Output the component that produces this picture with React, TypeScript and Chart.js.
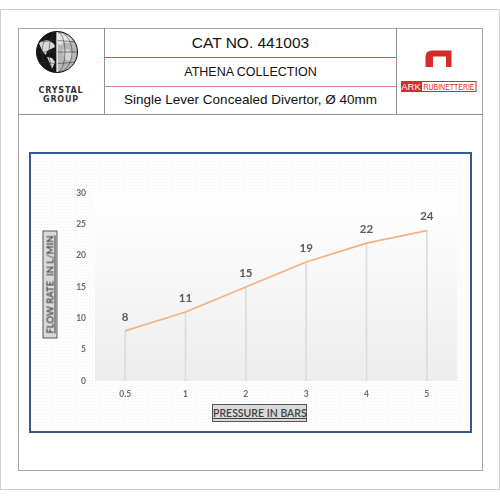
import React, { useEffect, useRef } from "react";
import { Chart, registerables } from "chart.js";

Chart.register(...registerables);

const pressures = ["0.5", "1", "2", "3", "4", "5"];
const flowRates = [8, 11, 15, 19, 22, 24];
const yMin = 0;
const yMax = 30;
const yStep = 5;

const catNo = "CAT NO. 441003";
const collection = "ATHENA COLLECTION";
const product = "Single Lever Concealed Divertor, Ø 40mm";
const yTitle = "FLOW RATE  IN L/MIN";
const xTitle = "PRESSURE IN BARS";

const chartFont = "Lato, 'Open Sans', sans-serif";

const plotBgPlugin = {
  id: "plotBg",
  beforeDraw(chart: any) {
    const { ctx, chartArea } = chart;
    if (!chartArea) return;
    const g = ctx.createLinearGradient(0, chartArea.top, 0, chartArea.bottom);
    g.addColorStop(0, "#ffffff");
    g.addColorStop(1, "#ededed");
    ctx.save();
    ctx.fillStyle = g;
    ctx.fillRect(chartArea.left, chartArea.top, chartArea.right - chartArea.left, chartArea.bottom - chartArea.top);
    ctx.restore();
  },
};

const valueLabelPlugin = {
  id: "valueLabels",
  afterDatasetsDraw(chart: any) {
    const { ctx } = chart;
    const meta = chart.getDatasetMeta(1);
    const data = chart.data.datasets[1].data;
    ctx.save();
    ctx.font = `bold 11.5px ${chartFont}`;
    ctx.fillStyle = "#595959";
    ctx.textAlign = "center";
    ctx.textBaseline = "middle";
    meta.data.forEach((el: any, i: number) => {
      ctx.fillText(String(data[i]), el.x, el.y - 14);
    });
    ctx.restore();
  },
};

function ChartBox() {
  const ref = useRef<HTMLCanvasElement | null>(null);
  useEffect(() => {
    if (!ref.current) return;
    const chart = new Chart(ref.current, {
      type: "bar",
      data: {
        labels: pressures,
        datasets: [
          {
            type: "bar",
            data: flowRates,
            backgroundColor: "#dcdcdc",
            barThickness: 1,
            order: 2,
          } as any,
          {
            type: "line",
            data: flowRates,
            borderColor: "#f4b183",
            borderWidth: 1.6,
            pointRadius: 0,
            tension: 0,
            fill: false,
            order: 1,
          } as any,
        ],
      },
      options: {
        animation: false,
        responsive: false,
        maintainAspectRatio: false,
        layout: { padding: { top: 39, right: 12, bottom: 0, left: 0 } },
        plugins: {
          legend: { display: false },
          tooltip: { enabled: false },
          title: { display: false },
        },
        scales: {
          x: {
            offset: true,
            grid: { display: false, drawTicks: false },
            border: { display: false },
            ticks: {
              padding: 8,
              color: "#6b6b6b",
              font: { family: chartFont, size: 8.5, weight: "bold" },
            },
            afterFit: (s: any) => {
              s.height = 49;
            },
          },
          y: {
            min: yMin,
            max: yMax,
            grid: { display: false, drawTicks: false },
            border: { display: false },
            ticks: {
              stepSize: yStep,
              padding: 9,
              color: "#6b6b6b",
              font: { family: chartFont, size: 8.5, weight: "bold" },
            },
            afterFit: (s: any) => {
              s.width = 64;
            },
          },
        },
      } as any,
      plugins: [plotBgPlugin, valueLabelPlugin],
    });
    return () => chart.destroy();
  }, []);
  return (
    <canvas
      ref={ref}
      width={438}
      height={276}
      style={{ position: "absolute", left: 31, top: 154, width: 438, height: 276 }}
    />
  );
}

function Globe() {
  return (
    <svg width={44} height={44} viewBox="0 0 44 44" style={{ position: "absolute", left: 35, top: 30 }}>
      <defs>
        <clipPath id="gclip">
          <circle cx={22} cy={22} r={20.5} />
        </clipPath>
      </defs>
      <g clipPath="url(#gclip)">
        <rect x={0} y={0} width={22} height={44} fill="#151515" />
        <rect x={22} y={0} width={22} height={44} fill="#b5b5b5" />
        <path d="M22 4 L27 3 L33 6 L37 10 L34 13 L29 12 L26 15 L23 14 Z" fill="#e6e6e6" />
        <path d="M27 20 L33 19 L38 24 L35 31 L30 29 Z" fill="#d6d6d6" />
        <path d="M4 13 Q9 9 15 11 L19 14 L20 17 L16 19 L12 21 L11 25 L8 22 L6 18 Z" fill="#d8d8d8" />
        <path d="M12 27 L17 28 L20 32 L17 39 L15 34 Z" fill="#d8d8d8" />
        <g stroke="#333" strokeWidth={0.55} fill="none">
          <ellipse cx={22} cy={22} rx={8} ry={20.5} />
          <ellipse cx={22} cy={22} rx={15} ry={20.5} />
          <path d="M0 12 Q22 9 44 12" />
          <path d="M0 32 Q22 35 44 32" />
          <line x1={0} y1={22} x2={44} y2={22} />
        </g>
        <line x1={22} y1={0} x2={22} y2={44} stroke="#fff" strokeWidth={1.2} />
      </g>
      <circle cx={22} cy={22} r={20.5} fill="none" stroke="#111" strokeWidth={1} />
    </svg>
  );
}

function ArkLogo() {
  return (
    <svg width={86} height={50} viewBox="0 0 86 50" style={{ position: "absolute", left: 396, top: 46 }}>
      <path d="M29.5 21 L29.5 11 Q29.5 4.5 36 4.5 L55.5 4.5 L55.5 21 L50 21 L50 10.5 L37 10.5 L37 21 Z" fill="#d42b2b" />
      <rect x={5} y={35} width={20} height={11} fill="#d42b2b" />
      <text x={15} y={44.2} fill="#fff" fontFamily="'Liberation Sans', Arial, sans-serif" fontSize={9.5} textAnchor="middle">ARK</text>
      <rect x={25.5} y={35.5} width={54.5} height={10} fill="#fff" stroke="#d42b2b" strokeWidth={1} />
      <text x={27.5} y={44.2} fill="#d42b2b" fontFamily="'Liberation Sans', Arial, sans-serif" fontSize={9.5} textLength={51} lengthAdjust="spacingAndGlyphs">RUBINETTERIE</text>
    </svg>
  );
}

export default function App() {
  const abs = (s: React.CSSProperties): React.CSSProperties => ({ position: "absolute", boxSizing: "border-box", ...s });
  const sans = "'Liberation Sans', Arial, sans-serif";
  return (
    <div style={abs({ left: 0, top: 0, width: 500, height: 500, background: "#fff", overflow: "hidden", fontFamily: sans })}>
      {/* outer frame */}
      <div style={abs({ left: 0, top: 9, width: 500, height: 481, border: "1px solid #cfcfcf" })} />
      {/* inner frame */}
      <div style={abs({ left: 18, top: 28, width: 465, height: 443, border: "1px solid #a8a8a8" })} />
      {/* header bottom line */}
      <div style={abs({ left: 18, top: 114, width: 465, height: 1, background: "#8f8f8f" })} />
      {/* column lines */}
      <div style={abs({ left: 104, top: 28, width: 1, height: 87, background: "#8f8f8f" })} />
      <div style={abs({ left: 396, top: 28, width: 1, height: 87, background: "#8f8f8f" })} />
      {/* red lines */}
      <div style={abs({ left: 104, top: 57, width: 292, height: 1, background: "#d24a4a" })} />
      <div style={abs({ left: 104, top: 86, width: 292, height: 1, background: "#d98080" })} />
      {/* header texts */}
      <div style={abs({ left: 105, top: 33, width: 291, height: 22, textAlign: "center", fontSize: 15.5, color: "#111", lineHeight: "20px" })}>{catNo}</div>
      <div style={abs({ left: 105, top: 63, width: 291, height: 20, textAlign: "center", fontSize: 12.5, color: "#111", lineHeight: "18px" })}>{collection}</div>
      <div style={abs({ left: 105, top: 90, width: 291, height: 20, textAlign: "center", fontSize: 13.5, color: "#111", lineHeight: "20px", whiteSpace: "nowrap" })}>{product}</div>
      <Globe />
      <div style={abs({ left: 20, top: 86, width: 82, textAlign: "center", fontFamily: "'DejaVu Sans', sans-serif", fontWeight: "bold", fontSize: 8, lineHeight: "9px", color: "#333", letterSpacing: 0.8 })}>
        CRYSTAL
        <br />
        GROUP
      </div>
      <ArkLogo />
      {/* chart box */}
      <div
        style={abs({
          left: 29,
          top: 152,
          width: 443,
          height: 281,
          border: "2px solid #34598a",
          background: "#fdfdfd",
          backgroundImage: "radial-gradient(#f1f1f1 0.6px, transparent 0.7px)",
          backgroundSize: "3px 3px",
        })}
      />
      <ChartBox />
      {/* y title */}
      <div
        style={abs({
          left: -4.5,
          top: 276.5,
          width: 108,
          height: 15,
          transform: "rotate(-90deg)",
          background: "#d9d9d9",
          border: "1px solid #555",
          textAlign: "center",
          fontFamily: chartFont,
          fontWeight: 600,
          fontSize: 9.5,
          lineHeight: "13px",
          color: "#404040",
          textDecoration: "underline",
          whiteSpace: "pre",
        })}
      >
        {yTitle}
      </div>
      {/* x title */}
      <div
        style={abs({
          left: 212,
          top: 404,
          width: 95,
          height: 18,
          background: "#d9d9d9",
          border: "1px solid #555",
          textAlign: "center",
          fontFamily: chartFont,
          fontWeight: 600,
          fontSize: 10.5,
          lineHeight: "16px",
          color: "#404040",
          textDecoration: "underline",
          whiteSpace: "nowrap",
        })}
      >
        {xTitle}
      </div>
    </div>
  );
}
